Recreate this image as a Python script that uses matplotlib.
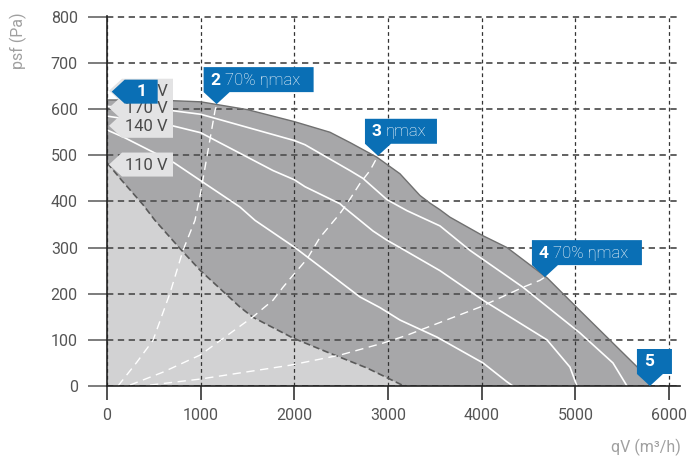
import matplotlib
matplotlib.use('Agg')
import matplotlib.pyplot as plt
from matplotlib.patches import Polygon
from matplotlib.transforms import IdentityTransform

plt.rcParams['font.family'] = ['Roboto', 'DejaVu Sans']

# ---------------- data ----------------
# outer (maximum speed) curve
qv_max = [0, 500, 1000, 1500, 2000, 2380, 2600, 2880, 3127, 3340, 3450, 3554, 3660, 4010, 4270, 4700, 5020, 5370, 5690, 5800]
psf_max = [620, 620, 616, 599, 573, 550, 527, 496, 460, 413, 396, 382, 366, 326, 300, 234, 169, 99, 35, 0]

# inner (minimum speed) curve
qv_min = [0, 160, 384, 512, 779, 993, 1420, 1558, 1985, 2380, 2775, 3150, 3200]
psf_min = [484, 445, 393, 359, 298, 251, 171, 149, 104, 71, 39, 2, 0]

# intermediate speed curves
qv_s1 = [0, 690, 1000, 2000, 2113, 2593, 2732, 2988, 3202, 3554, 3874, 4440, 5048, 5400, 5550]
psf_s1 = [606, 597, 589, 532, 523, 467, 450, 404, 380, 347, 294, 214, 115, 50, 0]
qv_s2 = [0, 700, 1000, 1772, 2000, 2113, 2487, 2519, 2839, 2988, 3127, 3554, 4013, 4696, 4941, 5016]
psf_s2 = [585, 564, 549, 467, 447, 432, 395, 389, 336, 316, 300, 250, 186, 100, 41, 0]
qv_s3 = [0, 190, 715, 1000, 1419, 1580, 2000, 2700, 2913, 3127, 3522, 4013, 4269, 4333]
psf_s3 = [555, 538, 484, 445, 388, 359, 301, 193, 170, 143, 106, 50, 9, 0]

# system / efficiency lines (dashed)
qv_e1 = [117, 320, 491, 672, 811, 939, 1000, 1153, 1174]
psf_e1 = [0, 52, 99, 201, 294, 359, 420, 597, 611]
qv_e2 = [245, 597, 993, 1558, 1772, 1878, 1985, 2134, 2273, 2487, 2561, 2700, 2807, 2892]
psf_e2 = [2, 30, 67, 150, 186, 214, 240, 275, 322, 374, 395, 439, 467, 499]
qv_e3 = [459, 993, 1953, 2487, 2946, 3202, 3340, 3980, 4440, 4621, 4674]
psf_e3 = [2, 15, 45, 67, 93, 110, 121, 171, 214, 229, 236]

# voltage labels at the y axis
volt_labels = ['110 V', '140 V', '170 V', '230 V']
volt_psf = [480, 564, 603, 640]

# numbered operating points
pt_num = ['1', '2', '3', '4', '5']
pt_text = ['', '70% ηmax', 'ηmax', '70% ηmax', '']
pt_qv = [50, 1170, 2892, 4674, 5795]
pt_psf = [638, 611, 499, 236, 0]

xticks = [0, 1000, 2000, 3000, 4000, 5000, 6000]
yticks = [0, 100, 200, 300, 400, 500, 600, 700, 800]

# ---------------- styling ----------------
DARK = '#a7a7a9'
LIGHT = '#d2d2d3'
BLUE = '#0a6fb5'
LABEL_GREY = '#e3e3e4'

W, H = 689, 459
fig = plt.figure(figsize=(W / 100, H / 100), dpi=100)
ax = fig.add_axes([107 / W, (H - 386) / H, 573.4 / W, 370 / H])
ax.set_xlim(0, 6120)
ax.set_ylim(0, 802)

ax.fill(qv_max + [0], psf_max + [0], color=DARK, lw=0, zorder=1)
ax.fill(qv_min + [0], psf_min + [0], color=LIGHT, lw=0, zorder=1.1)
ax.plot(qv_max, psf_max, color='#707070', lw=1.0, zorder=2, solid_joinstyle='round')
ax.plot(qv_min, psf_min, color='#5a5a5a', lw=1.2, ls=(0, (4, 2)), zorder=2)

for q, p in [(qv_s1, psf_s1), (qv_s2, psf_s2), (qv_s3, psf_s3)]:
    ax.plot(q, p, color='white', lw=1.2, zorder=2.5, solid_joinstyle='round')
for q, p in [(qv_e1, psf_e1), (qv_e2, psf_e2), (qv_e3, psf_e3)]:
    ax.plot(q, p, color='white', lw=1.0, ls=(0, (6, 4)), zorder=2.5)

ax.set_xticks(xticks)
ax.set_yticks(yticks)
ax.yaxis.grid(True, linestyle=(0, (3.5, 2.5)), color='#555555', lw=1.3, zorder=1.5)
ax.xaxis.grid(True, linestyle=(0, (3, 2.5)), color='#333333', lw=0.9, zorder=1.5)
for s in ['top', 'right']:
    ax.spines[s].set_visible(False)
for s in ['left', 'bottom']:
    ax.spines[s].set_color('#222222')
    ax.spines[s].set_linewidth(1.2)
ax.tick_params(axis='x', length=10, width=1.2, color='#333333', pad=6,
               labelsize=11.5, labelcolor='#555555')
ax.tick_params(axis='y', length=14, width=1.2, color='#666666', pad=7,
               labelsize=11.5, labelcolor='#555555')

fig.text(18 / W, 1 - 41 / H, 'psf (Pa)', rotation=90, ha='center', va='center',
         color='#a0a0a0', fontsize=11.5)
fig.text(681 / W, 1 - 447 / H, 'qV (m³/h)', ha='right', va='center',
         color='#a0a0a0', fontsize=11.5)

ident = IdentityTransform()


def disp(x, y):
    return ax.transData.transform((x, y))


# voltage labels (grey, arrow to the left)
for lab, p in zip(volt_labels, volt_psf):
    tx, ty = disp(0, p)
    tx += 2
    verts = [(tx, ty), (tx + 13, ty + 12), (tx + 64, ty + 12),
             (tx + 64, ty - 12), (tx + 13, ty - 12)]
    fig.patches.append(Polygon(verts, closed=True, facecolor=LABEL_GREY,
                               edgecolor='none', transform=ident, zorder=5))
    fig.text(tx + 16, ty - 1, lab, transform=ident, ha='left', va='center',
             color='#4a4a4a', fontsize=12, zorder=6)

# numbered markers (blue)
for num, txt, q, p in zip(pt_num, pt_text, pt_qv, pt_psf):
    tx, ty = disp(q, p)
    if num == '1':
        verts = [(tx, ty), (tx + 13, ty + 12), (tx + 46, ty + 12),
                 (tx + 46, ty - 12), (tx + 13, ty - 12)]
        fig.patches.append(Polygon(verts, closed=True, facecolor=BLUE,
                                   edgecolor='none', transform=ident, zorder=7))
        fig.text(tx + 25, ty, num, transform=ident, ha='left', va='center',
                 color='white', fontsize=12.5, fontweight='bold', zorder=8)
        continue
    left = tx - 13
    bot = ty + 12
    if num == '5':
        width = 35
    elif txt == 'ηmax':
        width = 72
    else:
        width = 110
    verts = [(left, bot), (tx, ty), (left + 26, bot), (left + width, bot),
             (left + width, bot + 25), (left, bot + 25)]
    fig.patches.append(Polygon(verts, closed=True, facecolor=BLUE,
                               edgecolor='none', transform=ident, zorder=7))
    fig.text(left + 7, bot + 12, num, transform=ident, ha='left', va='center',
             color='white', fontsize=12.5, fontweight='bold', zorder=8)
    if txt:
        fig.text(left + 21, bot + 12, txt, transform=ident, ha='left', va='center',
                 color='white', fontsize=12, fontweight='light', zorder=8)

fig.savefig('out.png', dpi=100)
